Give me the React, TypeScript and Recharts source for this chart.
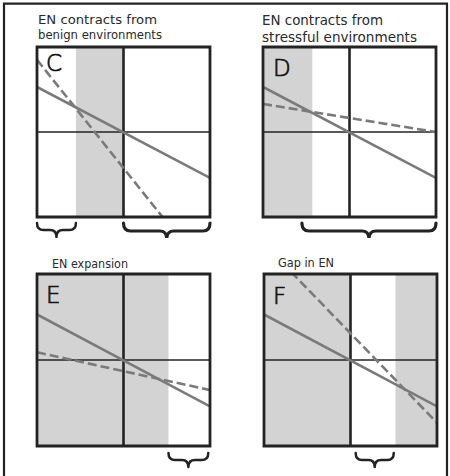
import React from "react";
import { LineChart, Line, XAxis, YAxis, ReferenceArea, ReferenceLine } from "recharts";

// Each panel uses a normalised response space: x and y both run from -1 to 1,
// with the environment midpoint at x = 0 and the zero response at y = 0.
type Pt = { x: number; y: number };

const solidTrend: Pt[] = [
  { x: -1, y: 0.53 },
  { x: 1, y: -0.54 },
];
const dashedC: Pt[] = [
  { x: -1, y: 0.85 },
  { x: 1, y: -1.7 },
];
const dashedD: Pt[] = [
  { x: -1, y: 0.33 },
  { x: 1, y: 0.0 },
];
const dashedE: Pt[] = [
  { x: -1, y: 0.09 },
  { x: 1, y: -0.35 },
];
const dashedF: Pt[] = [
  { x: -1, y: 1.35 },
  { x: 1, y: -0.73 },
];

// shaded environmental ranges (x-intervals)
const bandsC: [number, number][] = [[-0.55, 0]];
const bandsD: [number, number][] = [[-1, -0.43]];
const bandsE: [number, number][] = [[-1, 0.52]];
const bandsF: [number, number][] = [
  [-1, 0],
  [0.52, 1],
];

// braces under each panel (x-intervals)
const bracesC: [number, number][] = [
  [-1, -0.55],
  [0, 1],
];
const bracesD: [number, number][] = [[-0.55, 1]];
const bracesE: [number, number][] = [[0.52, 0.98]];
const bracesF: [number, number][] = [[0.06, 0.5]];

const titlesC = ["EN contracts from", "benign environments"];
const titlesD = ["EN contracts from", "stressful environments"];
const titlesE = ["EN expansion"];
const titlesF = ["Gap in EN"];

const INK = "#232323";
const TREND = "#7a7a7a";
const SHADE = "#d3d3d3";

const Brace = (props: any) => {
  const { x, y, width, height, offset, depth } = props;
  const x0 = x;
  const x1 = x + width;
  const xm = (x0 + x1) / 2;
  const y0 = y + height + offset;
  const yb = y0 + depth;
  const ym = y0 + depth * 0.5;
  const r = Math.min(7, width / 6);
  const d = `M ${x0} ${y0} Q ${x0} ${ym} ${x0 + r} ${ym} L ${xm - r} ${ym} Q ${xm} ${ym} ${xm} ${yb} Q ${xm} ${ym} ${xm + r} ${ym} L ${x1 - r} ${ym} Q ${x1} ${ym} ${x1} ${y0}`;
  return (
    <path
      d={d}
      fill="none"
      stroke={INK}
      strokeWidth={width > 80 ? 3.2 : 2.5}
      strokeLinecap="round"
      strokeLinejoin="round"
    />
  );
};

type PanelProps = {
  left: number;
  top: number;
  margin: { top: number; right: number; bottom: number; left: number };
  dashed: Pt[];
  bands: [number, number][];
  braces: [number, number][];
  braceOffset: number;
};

const W = 225;
const H = 238;

const Panel = ({ left, top, margin, dashed, bands, braces, braceOffset }: PanelProps) => (
  <div style={{ position: "absolute", left, top, width: W, height: H }}>
    <LineChart width={W} height={H} margin={margin}>
      <XAxis type="number" dataKey="x" domain={[-1, 1]} hide allowDataOverflow />
      <YAxis type="number" dataKey="y" domain={[-1, 1]} hide allowDataOverflow />
      {bands.map(([a, b], i) => (
        <ReferenceArea
          key={`band-${i}`}
          x1={a}
          x2={b}
          y1={-1}
          y2={1}
          fill={SHADE}
          fillOpacity={1}
          stroke="none"
        />
      ))}
      <ReferenceLine y={0} stroke={INK} strokeWidth={1.3} />
      <ReferenceLine x={0} stroke={INK} strokeWidth={2.6} />
      <Line
        data={solidTrend}
        dataKey="y"
        type="linear"
        stroke={TREND}
        strokeWidth={2.6}
        dot={false}
        activeDot={false}
        isAnimationActive={false}
      />
      <Line
        data={dashed}
        dataKey="y"
        type="linear"
        stroke={TREND}
        strokeWidth={2.6}
        strokeDasharray="9 4"
        dot={false}
        activeDot={false}
        isAnimationActive={false}
      />
      <ReferenceArea
        x1={-1}
        x2={1}
        y1={-1}
        y2={1}
        fill="none"
        fillOpacity={0}
        stroke={INK}
        strokeWidth={2.8}
        zIndex={900}
      />
      {braces.map(([a, b], i) => (
        <ReferenceArea
          key={`brace-${i}`}
          x1={a}
          x2={b}
          y1={-1}
          y2={1}
          ifOverflow="visible"
          shape={(p: any) => (
            <Brace {...p} offset={braceOffset} depth={b - a > 0.8 ? 16 : 14} />
          )}
        />
      ))}
    </LineChart>
  </div>
);

const titleFont = "'DejaVu Sans', Verdana, sans-serif";

export default function App() {
  return (
    <div
      style={{
        position: "absolute",
        left: 0,
        top: 0,
        width: 450,
        height: 476,
        background: "#fff",
        overflow: "hidden",
      }}
    >
      <Panel
        left={0}
        top={0}
        margin={{ top: 47, right: 15, bottom: 21, left: 37 }}
        dashed={dashedC}
        bands={bandsC}
        braces={bracesC}
        braceOffset={6}
      />
      <Panel
        left={225}
        top={0}
        margin={{ top: 47, right: 14, bottom: 21, left: 38 }}
        dashed={dashedD}
        bands={bandsD}
        braces={bracesD}
        braceOffset={6}
      />
      <Panel
        left={0}
        top={238}
        margin={{ top: 36, right: 15, bottom: 30, left: 37 }}
        dashed={dashedE}
        bands={bandsE}
        braces={bracesE}
        braceOffset={7}
      />
      <Panel
        left={225}
        top={238}
        margin={{ top: 36, right: 13, bottom: 30, left: 39 }}
        dashed={dashedF}
        bands={bandsF}
        braces={bracesF}
        braceOffset={7}
      />
      <svg
        width={450}
        height={476}
        style={{ position: "absolute", left: 0, top: 0, pointerEvents: "none" }}
      >
        {/* outer frame, open at the bottom */}
        <path d="M 4 480 L 4 3.7 L 447 3.7 L 447 480" fill="none" stroke={INK} strokeWidth={2.2} />

        <g fontFamily={titleFont} fill="#2a2a2a">
          <text x={38} y={23.5} fontSize={13} textLength={119} lengthAdjust="spacingAndGlyphs">
            {titlesC[0]}
          </text>
          <text x={38} y={38.5} fontSize={13} textLength={124} lengthAdjust="spacingAndGlyphs">
            {titlesC[1]}
          </text>
          <text x={262} y={25} fontSize={13.5} textLength={121} lengthAdjust="spacingAndGlyphs">
            {titlesD[0]}
          </text>
          <text x={262} y={41.5} fontSize={13.5} textLength={155} lengthAdjust="spacingAndGlyphs">
            {titlesD[1]}
          </text>
          <text x={52} y={267.5} fontSize={13} textLength={76} lengthAdjust="spacingAndGlyphs">
            {titlesE[0]}
          </text>
          <text x={278} y={266.5} fontSize={13} textLength={56} lengthAdjust="spacingAndGlyphs">
            {titlesF[0]}
          </text>
        </g>

        <g
          fontFamily={titleFont}
          fontWeight={200}
          fontSize={23}
          fill="#111"
          stroke="#111"
          strokeWidth={0.7}
        >
          <text x={46} y={71}>C</text>
          <text x={273} y={76}>D</text>
          <text x={46} y={303}>E</text>
          <text x={273} y={304}>F</text>
        </g>
      </svg>
    </div>
  );
}
